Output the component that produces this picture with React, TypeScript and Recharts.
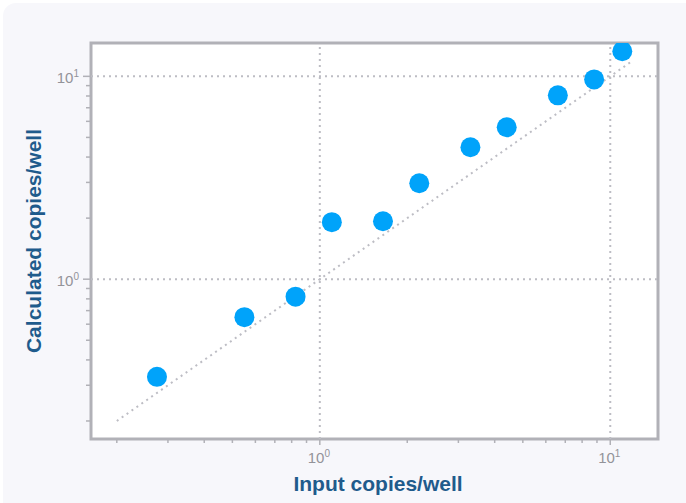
import React from "react"
import {
  ScatterChart,
  Scatter,
  XAxis,
  YAxis,
  ReferenceArea,
  ReferenceLine,
} from "recharts"

// measured values, both axes are log10
const inputCopies = [0.275, 0.55, 0.825, 1.1, 1.65, 2.2, 3.3, 4.4, 6.6, 8.8, 11]
const calculatedCopies = [0.33, 0.65, 0.82, 1.91, 1.93, 2.97, 4.47, 5.61, 8.06, 9.66, 13.3]

// axis extent and ticks (decades get a label, the rest are minor marks)
const axisDomain: [number, number] = [0.163, 14.6]
const majorTicks = [1, 10]
const logTicks = [0.2, 0.3, 0.4, 0.5, 0.6, 0.7, 0.8, 0.9, 1, 2, 3, 4, 5, 6, 7, 8, 9, 10]
const identityRange = [0.2, 12]

const data = inputCopies.map((x, i) => ({ x, y: calculatedCopies[i] }))

const FONT = "'Liberation Sans', Arial, Helvetica, sans-serif"
const TITLE_COLOR = "#1f5b8c"
const TICK_COLOR = "#939399"
const FRAME_COLOR = "#b1b1b7"
const DOT_LINE = "#bdbdc4"
const POINT_COLOR = "#00a3fa"

const W = 686
const H = 503
const PLOT = { left: 91, right: 658, top: 43, bottom: 439 }
const Y_AXIS_W = 60
const X_AXIS_H = 40

const exponent = (v: number) => Math.round(Math.log10(v))

const XTick = ({ x, y, payload }: any) => {
  const major = majorTicks.includes(payload.value)
  return (
    <g>
      <line x1={x} x2={x} y1={y} y2={y + (major ? 6 : 4)} stroke={FRAME_COLOR} strokeWidth={1.5} />
      {major && (
        <text x={x - 1} y={y + 24} textAnchor="middle" fill={TICK_COLOR} fontSize={15} fontFamily={FONT}>
          10
          <tspan fontSize={10} dy={-6}>
            {exponent(payload.value)}
          </tspan>
        </text>
      )}
    </g>
  )
}

const YTick = ({ x, y, payload }: any) => {
  const major = majorTicks.includes(payload.value)
  return (
    <g>
      <line x1={x - (major ? 8 : 5)} x2={x} y1={y} y2={y} stroke={FRAME_COLOR} strokeWidth={1.5} />
      {major && (
        <text x={x - 12} y={y + 7} textAnchor="end" fill={TICK_COLOR} fontSize={15} fontFamily={FONT}>
          10
          <tspan fontSize={10} dy={-6}>
            {exponent(payload.value)}
          </tspan>
        </text>
      )}
    </g>
  )
}

const Point = (props: any) => <circle cx={props.cx} cy={props.cy} r={10} fill={POINT_COLOR} />

export default function App() {
  return (
    <div style={{ position: "absolute", left: 0, top: 0, width: W, height: H, overflow: "hidden", background: "#fff" }}>
      <div
        style={{
          position: "absolute",
          left: 3,
          top: 3,
          width: W + 10,
          height: H + 10,
          borderRadius: 13,
          background: "#f7f7fb",
        }}
      />
      <div style={{ position: "absolute", left: 0, top: 0 }}>
        <ScatterChart
          width={W}
          height={H}
          margin={{
            top: PLOT.top,
            right: W - PLOT.right,
            left: PLOT.left - Y_AXIS_W,
            bottom: H - PLOT.bottom - X_AXIS_H,
          }}
        >
          <XAxis
            type="number"
            dataKey="x"
            scale="log"
            domain={axisDomain}
            allowDataOverflow
            ticks={logTicks}
            interval={0}
            tick={<XTick />}
            tickLine={false}
            tickSize={0}
            tickMargin={0}
            axisLine={false}
            height={X_AXIS_H}
          />
          <YAxis
            type="number"
            dataKey="y"
            scale="log"
            domain={axisDomain}
            allowDataOverflow
            ticks={logTicks}
            interval={0}
            tick={<YTick />}
            tickLine={false}
            tickSize={0}
            tickMargin={0}
            axisLine={false}
            width={Y_AXIS_W}
          />
          <ReferenceArea
            x1={axisDomain[0]}
            x2={axisDomain[1]}
            y1={axisDomain[0]}
            y2={axisDomain[1]}
            fill="#ffffff"
            fillOpacity={1}
            stroke={FRAME_COLOR}
            strokeWidth={3}
          />
          {majorTicks.map((v) => (
            <ReferenceLine key={`gx-${v}`} x={v} stroke={DOT_LINE} strokeWidth={2} strokeDasharray="2 4" />
          ))}
          {majorTicks.map((v) => (
            <ReferenceLine key={`gy-${v}`} y={v} stroke={DOT_LINE} strokeWidth={2} strokeDasharray="2 4" />
          ))}
          <ReferenceLine
            segment={[
              { x: identityRange[0], y: identityRange[0] },
              { x: identityRange[1], y: identityRange[1] },
            ]}
            stroke={DOT_LINE}
            strokeWidth={2}
            strokeDasharray="2 4"
          />
          <Scatter data={data} shape={<Point />} isAnimationActive={false} />
        </ScatterChart>
      </div>
      <div
        style={{
          position: "absolute",
          left: 378,
          top: 483,
          transform: "translate(-50%, -50%)",
          whiteSpace: "nowrap",
          lineHeight: 1,
          fontFamily: FONT,
          fontWeight: 700,
          fontSize: 21,
          color: TITLE_COLOR,
        }}
      >
        Input copies/well
      </div>
      <div
        style={{
          position: "absolute",
          left: 33,
          top: 241,
          transform: "translate(-50%, -50%) rotate(-90deg)",
          whiteSpace: "nowrap",
          lineHeight: 1,
          fontFamily: FONT,
          fontWeight: 700,
          fontSize: 21,
          color: TITLE_COLOR,
        }}
      >
        Calculated copies/well
      </div>
    </div>
  )
}
